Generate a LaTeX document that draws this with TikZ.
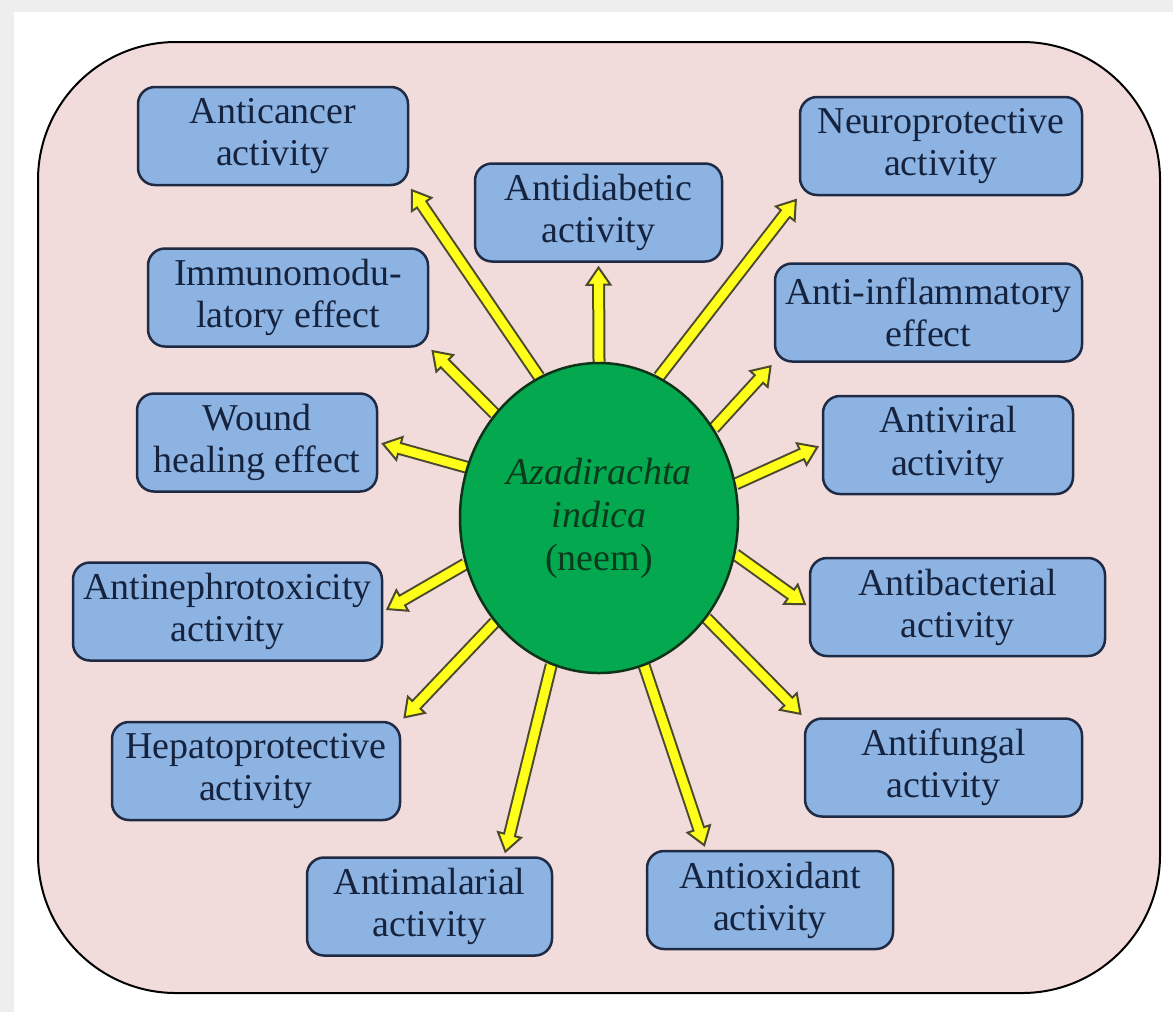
\documentclass[tikz,border=0pt]{standalone}
\usepackage{xcolor}
\usepackage{fontspec}
\setmainfont{Liberation Serif}
\usetikzlibrary{shapes.geometric, arrows.meta}
\pgfdeclarelayer{background}
\pgfsetlayers{background,main}

\definecolor{framegray}{HTML}{EEEEEE}
\definecolor{bgpink}{HTML}{F2DCDB}
\definecolor{boxblue}{HTML}{8DB3E2}
\definecolor{boxedge}{HTML}{1F2B45}
\definecolor{boxtext}{HTML}{15233F}
\definecolor{neemgreen}{HTML}{04A84E}
\definecolor{neemedge}{HTML}{0E3318}
\definecolor{neemtext}{HTML}{0B3A1C}
\definecolor{arrowyellow}{HTML}{FFFF1A}
\definecolor{arrowedge}{HTML}{4B4A2C}

% yellow arrow: dark outline first, yellow core on top
\newcommand{\neemarrow}[2]{%
  \draw[arrowout] (#1) -- (#2);
  \draw[arrowin] (#1) -- (#2);}

\begin{document}
\begin{tikzpicture}[
    box/.style={draw=boxedge, fill=boxblue, line width=0.025cm, rounded corners=0.17cm,
      minimum height=0.98cm, inner sep=0pt, align=center, text=boxtext,
      font=\fontsize{10.8}{12}\selectfont},
    arrowout/.style={draw=arrowedge, line width=0.13cm, shorten >=0.03cm,
      -{Triangle[length=0.2cm, width=0.27cm, fill=arrowyellow, line width=0.02cm]}},
    arrowin/.style={draw=arrowyellow, line width=0.09cm, shorten >=0.16cm}]

  % PAGE AND FRAME
  \begin{pgfonlayer}{background}
    \fill[white] (0,0) rectangle (11.73,10.12);
    \fill[framegray] (0,10.0) rectangle (11.73,10.12);
    \fill[framegray] (0,0) rectangle (0.14,10.12);
    \draw[fill=bgpink, line width=0.02cm, rounded corners=1.38cm]
    (0.38,0.19) rectangle (11.60,9.70);
  \end{pgfonlayer}
  \useasboundingbox (0,0) rectangle (11.73,10.12);

  % CENTRE
  \node[ellipse, draw=neemedge, fill=neemgreen, line width=0.025cm,
    minimum width=2.78cm, minimum height=3.10cm, inner sep=0pt, align=center,
    text=neemtext, font=\fontsize{10.8}{12.2}\selectfont]
  (neem) at (5.99,4.94) {\textit{Azadirachta}\\\textit{indica}\\(neem)};

  % LEFT
  \node[box, minimum width=2.70cm] (anticancer) at (2.73,8.76) {Anticancer\\activity};
  \node[box, minimum width=2.80cm] (immunomodulatory) at (2.88,7.145) {Immunomodu-\\latory effect};
  \node[box, minimum width=2.40cm] (wound) at (2.57,5.695) {Wound\\healing effect};
  \node[box, minimum width=3.09cm] (antinephrotoxicity) at (2.275,4.005) {Antinephrotoxicity\\activity};
  \node[box, minimum width=2.88cm] (hepatoprotective) at (2.56,2.41) {Hepatoprotective\\activity};

  % TOP AND BOTTOM
  \node[box, minimum width=2.47cm] (antidiabetic) at (5.985,7.995) {Antidiabetic\\activity};
  \node[box, minimum width=2.45cm] (antimalarial) at (4.295,1.055) {Antimalarial\\activity};
  \node[box, minimum width=2.46cm] (antioxidant) at (7.70,1.12) {Antioxidant\\activity};

  % RIGHT
  \node[box, minimum width=2.82cm] (neuroprotective) at (9.41,8.66) {Neuroprotective\\activity};
  \node[box, minimum width=3.07cm] (antiinflammatory) at (9.285,6.995) {Anti-inflammatory\\effect};
  \node[box, minimum width=2.50cm] (antiviral) at (9.48,5.67) {Antiviral\\activity};
  \node[box, minimum width=2.95cm] (antibacterial) at (9.575,4.05) {Antibacterial\\activity};
  \node[box, minimum width=2.77cm] (antifungal) at (9.435,2.445) {Antifungal\\activity};

  % ARROWS
  \begin{pgfonlayer}{background}
    \neemarrow{neem.113.7}{anticancer.south east}
    \neemarrow{neem.north}{antidiabetic.south}
    \neemarrow{neem.67.3}{neuroprotective.south west}
    \neemarrow{neem.135.3}{immunomodulatory.south east}
    \neemarrow{neem.38.7}{antiinflammatory.south west}
    \neemarrow{neem.159.4}{wound.east}
    \neemarrow{neem.14.6}{antiviral.west}
    \neemarrow{neem.199.7}{antinephrotoxicity.east}
    \neemarrow{neem.-15.7}{antibacterial.west}
    \neemarrow{neem.225.8}{hepatoprotective.north east}
    \neemarrow{neem.-43.4}{antifungal.north west}
    \neemarrow{neem.252.6}{[xshift=-0.49cm]antimalarial.north east}
    \neemarrow{neem.-73.5}{[xshift=0.6cm]antioxidant.north west}
  \end{pgfonlayer}
\end{tikzpicture}
\end{document}
